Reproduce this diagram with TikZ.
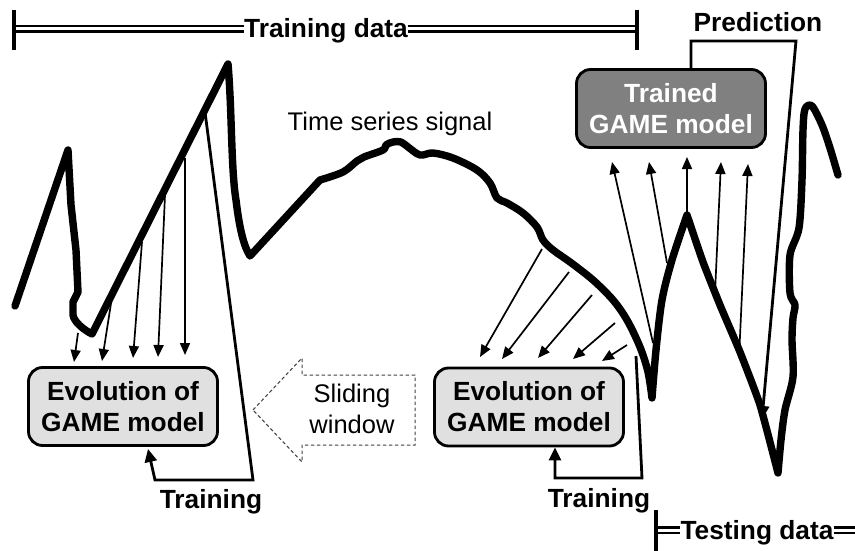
\documentclass[tikz,border=0pt]{standalone}
\usepackage{fontspec}
\setmainfont{Liberation Sans}
\usetikzlibrary{arrows.meta}
\definecolor{evogray}{gray}{0.88}
\definecolor{traingray}{gray}{0.5}
\definecolor{dashgray}{gray}{0.25}
\newcommand\boldlab{\fontsize{26.3}{31}\selectfont\bfseries}
\newcommand\reglab{\fontsize{25.5}{31}\selectfont}
\begin{document}
\begin{tikzpicture}[x=1pt,y=-1pt,
  signal/.style={line width=7.4pt, line cap=round, line join=round},
  thinarrow/.style={line width=1.7pt, -{Triangle[length=12pt,width=10pt]}},
  conn/.style={line width=2.8pt, line join=miter},
  connarrow/.style={conn, -{Triangle[length=13pt,width=12pt]}},
  modelbox/.style={draw, line width=2.8pt, rounded corners=14pt, minimum width=189pt, minimum height=78pt, inner sep=0pt, align=center, font=\boldlab},
  evobox/.style={modelbox, fill=evogray},
  trainedbox/.style={modelbox, fill=traingray, text=white},
  dbl/.style={double, double distance=3pt, line width=2.2pt},
  tickline/.style={line width=3.4pt},
  lab/.style={font=\boldlab, inner sep=0pt, anchor=base},
  dashedarrow/.style={draw=dashgray, line width=1pt, dash pattern=on 3.5pt off 2.5pt, line join=miter}
]
\useasboundingbox (0,0) rectangle (855,551);

% ---- Training data bar ----
\node[lab] (trdata) at (326,38) {Training data};
\coordinate (tdl) at (14,29);
\coordinate (tdr) at (637,29);
\coordinate (tdlt) at (14,10);
\coordinate (tdlb) at (14,50);
\coordinate (tdrt) at (637,10);
\coordinate (tdrb) at (637,50);
\draw[dbl] (tdl) -- (trdata.west |- tdl);
\draw[dbl] (trdata.east |- tdr) -- (tdr);
\draw[tickline] (tdlt) -- (tdlb);
\draw[tickline] (tdrt) -- (tdrb);

% ---- Testing data bar ----
\node[lab] (tsdata) at (757,539) {Testing data};
\coordinate (tsl) at (656,530);
\coordinate (tsr) at (856,530);
\coordinate (tslt) at (656,510);
\coordinate (tslb) at (656,552);
\draw[dbl] (tsl) -- (tsdata.west |- tsl);
\draw[dbl] (tsdata.east |- tsr) -- (tsr);
\draw[tickline] (tslt) -- (tslb);

% ---- labels ----
\node[font=\reglab, inner sep=0pt, anchor=base] (tss) at (390,131) {Time series signal};
\node[lab] (pred) at (758,32) {Prediction};
\node[lab] (trL) at (211,508) {Training};
\node[lab] (trR) at (599,507) {Training};

% ---- signal ----
\draw[signal] (15,306) -- (68,150) -- (71,205) -- (76,250) -- (78,292) -- (73,302) -- (73,315)
  .. controls (74,322) and (84,330) .. (92,334) -- (228,64)
  .. controls (232,110) and (231,170) .. (236,200)
  .. controls (239,225) and (243,245) .. (250,256) -- (320,180)
  -- plot[smooth, tension=0.55] coordinates {(320,180) (343,172) (357,161) (364,157) (383,150) (386,145) (393,142) (401,142) (408,147) (420,155) (433,153) (453,158) (477,170) (490,183) (497,198) (507,203) (523,213) (537,227) (543,240) (553,250) (570,262) (593,280) (613,300) (627,320) (640,347) (648,372) (652,398)}
  -- plot[smooth, tension=0.5] coordinates {(652,398) (656,350) (662,300) (672,260) (687,215)}
  -- plot[smooth, tension=0.3] coordinates {(687,215) (703,262) (720,305) (740,352) (760,405) (778,473)}
  -- plot[smooth, tension=0.5] coordinates {(778,473) (781,440) (785,410) (793,377) (792,340) (793,318) (795,305) (790,293) (790,255) (799,228) (802,180) (803,130) (805,109) (812,106) (822,125) (830,148) (838,175)};

% ---- boxes ----
\node[evobox] (evoL) at (123,406.5) {Evolution of\\GAME model};
\node[evobox] (evoR) at (529,407) {Evolution of\\GAME model};
\node[trainedbox] (trained) at (671,108.5) {Trained\\GAME model};

% ---- sliding window ----
\node[font=\reglab, inner sep=0pt, align=center] (slide) at (352,409) {Sliding\\window};
\draw[dashedarrow] (253,410) -- (302,358) -- (302,375) -- (415,375) -- (415,445) -- (302,445) -- (302,462) -- cycle;

% ---- arrows signal -> left evolution ----
\foreach \i/\tx/\ty/\hx/\hy in {1/78/333/74/362, 2/112/297/102/361, 3/142/242/133/358, 4/165/195/158/357, 5/185/158/185/355}{
  \coordinate (la\i) at (\tx,\ty);
  \coordinate (lh\i) at (\hx,\hy);
  \draw[thinarrow] (la\i) -- (lh\i);
}
% ---- arrows signal -> right evolution ----
\foreach \i/\tx/\ty/\hx/\hy in {1/542/249/480/357, 2/569/272/502/359, 3/592/295/538/358, 4/615/323/573/359, 5/627/345/602/361}{
  \coordinate (ra\i) at (\tx,\ty);
  \coordinate (rh\i) at (\hx,\hy);
  \draw[thinarrow] (ra\i) -- (rh\i);
}
% ---- arrows signal -> trained ----
\foreach \i/\tx/\ty/\hx/\hy in {1/653/343/612/162, 2/667/263/649/162, 3/687/213/687/157, 4/715/293/721/162, 5/739/358/748/164}{
  \coordinate (ta\i) at (\tx,\ty);
  \coordinate (th\i) at (\hx,\hy);
  \draw[thinarrow] (ta\i) -- (th\i);
}

% ---- training connectors ----
\coordinate (lt1) at (205,112);
\coordinate (lt2) at (253,480);
\coordinate (lt3) at (155,480);
\coordinate (lt4) at (148,449);
\draw[connarrow] (lt1) -- (lt2) -- (lt3) -- (lt4);

\coordinate (rt1) at (636,356);
\coordinate (rt2) at (642,478);
\coordinate (rt3) at (555,478);
\draw[connarrow] (rt1) -- (rt2) -- (rt3) -- (evoR.south -| rt3);

% ---- prediction connector ----
\coordinate (pk1) at (691,41);
\coordinate (pk2) at (796,41);
\coordinate (ptip) at (762,419);
\draw[connarrow] (trained.north -| pk1) -- (pk1) -- (pk2) -- (ptip);
\end{tikzpicture}
\end{document}
